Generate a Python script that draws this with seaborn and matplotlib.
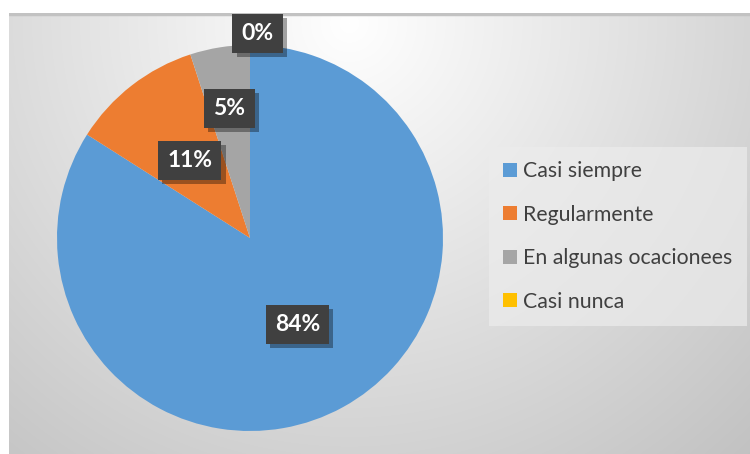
import numpy as np
import matplotlib
matplotlib.use("Agg")
import matplotlib.pyplot as plt
import matplotlib.patheffects as pe
from matplotlib.patches import Patch
import seaborn as sns

# Survey answers and their shares (%)
categories = ["Casi siempre", "Regularmente", "En algunas ocacionees", "Casi nunca"]
shares = [84, 11, 5, 0]
colors = ["#5B9BD5", "#ED7D31", "#A5A5A5", "#FFC000"]

sns.set_theme(style="white")
plt.rcParams["font.family"] = ["Lato", "DejaVu Sans"]

W, H = 750, 454
fig = plt.figure(figsize=(W / 100, H / 100), dpi=100)
fig.patch.set_facecolor("white")

# Chart area with a soft radial background
bg = fig.add_axes([9 / W, 0, (W - 9) / W, (H - 13) / H])
bg.set_axis_off()
gw, gh = W - 9, H - 13
yy, xx = np.mgrid[0:gh, 0:gw]
d = np.hypot(xx - 340, (yy - 10) * 1.0)
val = np.clip(255 - 0.104 * d, 190, 255) / 255.0
bg.imshow(np.dstack([val, val, val]), aspect="auto", extent=[0, gw, gh, 0])
bg.set_xlim(0, gw)
bg.set_ylim(gh, 0)
bg.plot([0, gw], [0.5, 0.5], color="#c2c2c2", lw=2.5)

# Pie
cx, cy, r = 250, 238, 193
ax = fig.add_axes([(cx - r) / W, (H - cy - r) / H, 2 * r / W, 2 * r / H])
wedges, _ = ax.pie(shares, colors=colors, startangle=90, counterclock=False,
                   radius=1.0, wedgeprops=dict(linewidth=0))
ax.set_xlim(-1, 1)
ax.set_ylim(-1, 1)
ax.set_aspect("equal")
ax.set_axis_off()

# Data labels in dark boxes, placed along each wedge's mid-angle
label_radius = [0.51, 0.51, 0.68, 1.06]
x_shift = [0.0, 0.0, 0.0, 0.04]
for w, v, lr, xs in zip(wedges, shares, label_radius, x_shift):
    ang = np.deg2rad((w.theta1 + w.theta2) / 2)
    t = ax.text(lr * np.cos(ang) + xs, lr * np.sin(ang), f"{v}%",
                ha="center", va="center", color="white", fontsize=16.5,
                fontweight="bold", clip_on=False, zorder=5,
                bbox=dict(boxstyle="square,pad=0.4", facecolor="#404040",
                          edgecolor="none"))
    t.get_bbox_patch().set_path_effects([
        pe.SimplePatchShadow(offset=(3, -3), shadow_rgbFace="black", alpha=0.35),
        pe.Normal()])

# Legend
handles = [Patch(facecolor=c, edgecolor="none", label=l) for c, l in zip(colors, categories)]
leg = fig.legend(handles=handles, loc="upper left",
                 bbox_to_anchor=(489 / W, 1 - 147 / H), frameon=True,
                 fontsize=15.3, handlelength=0.62, handleheight=0.62,
                 handletextpad=0.3, labelspacing=1.1, borderpad=0.68,
                 borderaxespad=0)
for txt in leg.get_texts():
    txt.set_color("#404040")
frame = leg.get_frame()
frame.set_facecolor("#ececec")
frame.set_alpha(0.7)
frame.set_edgecolor("none")
frame.set_boxstyle("square", pad=0)

fig.savefig("out.png", dpi=100)
